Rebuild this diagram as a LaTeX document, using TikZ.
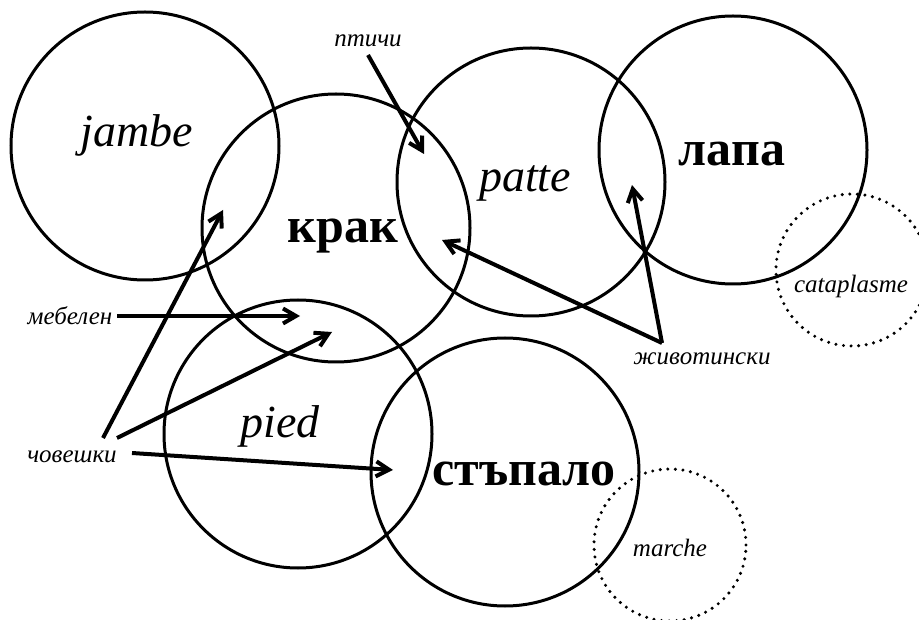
\documentclass[tikz,border=0pt]{standalone}
\usepackage{fontspec}
\setmainfont{Liberation Serif}
\usetikzlibrary{arrows.meta}
\tikzset{
  ring/.style={draw, circle, line width=3pt, inner sep=0pt, minimum size=268pt},
  dotring/.style={draw, circle, line width=3.4pt, dash pattern=on 0pt off 7.6pt,
                  line cap=round, inner sep=0pt, minimum size=152pt},
  fr/.style={font=\fontsize{46}{46}\selectfont\itshape, anchor=base, inner sep=0pt},
  bg/.style={font=\fontsize{50}{50}\selectfont\bfseries, anchor=base, inner sep=0pt},
  sm/.style={font=\fontsize{25}{25}\selectfont\itshape, anchor=base, inner sep=0pt},
  arr/.style={-{Straight Barb[length=13pt,width=15pt]}, line width=4pt},
}

\begin{document}
\begin{tikzpicture}[x=1pt, y=-1pt]
  \useasboundingbox (0,0) rectangle (919,620);
  \fill[white] (0,0) rectangle (919,620);

  % ---- word circles ----
  \node[ring] (jambeC) at (145,146) {};
  \node[ring] (krakC)  at (336,228) {};
  \node[ring] (patteC) at (531,182) {};
  \node[ring] (lapaC)  at (733,150) {};
  \node[ring] (piedC)  at (298,434) {};
  \node[ring] (stapC)  at (505,472) {};
  \node[dotring] (cataC)  at (852,270) {};
  \node[dotring] (marchC) at (670,545) {};

  % ---- words ----
  \node[fr] (jambe) at (137,147) {jambe};
  \node[fr] (patte) at (525,192) {patte};
  \node[fr] (pied)  at (280,437) {pied};
  \node[bg] (krak)  at (343,243) {крак};
  \node[bg] (lapa)  at (732,166) {лапа};
  \node[bg] (stap)  at (524,485) {стъпало};
  \node[sm] (cata)  at (851,293) {cataplasme};
  \node[sm] (march) at (670,556) {marche};

  % ---- usage labels ----
  \node[sm] (ptichi) at (368,47)  {птичи};
  \node[sm] (mebel)  at (70,325)  {мебелен};
  \node[sm] (chovek) at (72,462)  {човешки};
  \node[sm] (zhivot) at (702,365) {животински};

  % ---- arrow ends ----
  \coordinate (ptS) at (368,55);
  \coordinate (ptT) at (424,154);
  \coordinate (meS) at (117,316);
  \coordinate (meT) at (300,316);
  \coordinate (chA) at (103,438);
  \coordinate (chB) at (117,438);
  \coordinate (chC) at (132,453);
  \coordinate (chAT) at (223,210);
  \coordinate (chBT) at (332,332);
  \coordinate (chCT) at (393,470);
  \coordinate (zhS) at (662,343);
  \coordinate (zhA) at (442,240);
  \coordinate (zhB) at (632,185);

  \draw[arr] (ptS) -- (ptT);
  \draw[arr] (meS) -- (meT);
  \draw[arr] (chA) -- (chAT);
  \draw[arr] (chB) -- (chBT);
  \draw[arr] (chC) -- (chCT);
  \draw[arr] (zhS) -- (zhA);
  \draw[arr] (zhS) -- (zhB);
\end{tikzpicture}
\end{document}
